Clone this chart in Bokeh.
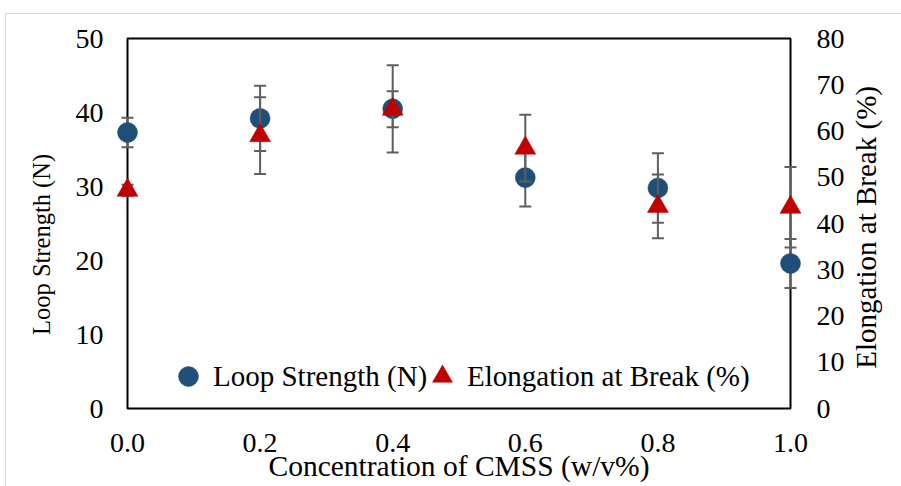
import math
import numpy as np
from bokeh.plotting import figure
from bokeh.models import (Range1d, LinearAxis, FixedTicker, PrintfTickFormatter,
                          Legend, LegendItem, ColumnDataSource)
from bokeh.embed import file_html
from bokeh.resources import INLINE

# ---------------- data ----------------
conc = [0.0, 0.2, 0.4, 0.6, 0.8, 1.0]
loop_strength = [37.3, 39.2, 40.5, 31.2, 29.8, 19.6]
loop_err = [2.0, 4.4, 5.9, 3.9, 4.7, 3.3]
elongation = [47.2, 59.0, 64.7, 56.3, 43.7, 43.5]
elong_err = [1.2, 8.3, 3.9, 7.2, 6.9, 8.7]

x_ticks = [0.0, 0.2, 0.4, 0.6, 0.8, 1.0]
left_ticks = [0, 10, 20, 30, 40, 50]
right_ticks = [0, 10, 20, 30, 40, 50, 60, 70, 80]

x_label = "Concentration of CMSS (w/v%)"
left_label = "Loop Strength (N)"
right_label = "Elongation at Break (%)"
series_names = ["Loop Strength (N)", "Elongation at Break (%)"]

# ---------------- style ----------------
FONT = "Liberation Serif"
BLUE = "#1F4E79"
RED = "#C00000"
ERR = "#5F5F5F"

FRAME_LEFT = 107
PAD_PX = 20
X_PX = 663.0
YL_PX = 370.0
LEFT_TITLE_POS = 34.4    # anchor of the left title (left-axis units)
RIGHT_TITLE_POS = 45.6   # anchor of the right title (right-axis units)

x0, x1 = min(x_ticks), max(x_ticks)
yl0, yl1 = min(left_ticks), max(left_ticks)
yr0, yr1 = min(right_ticks), max(right_ticks)
xpad = PAD_PX / X_PX * (x1 - x0)
ylpad = (PAD_PX / 2) / YL_PX * (yl1 - yl0)
yrpad = (PAD_PX / 2) / YL_PX * (yr1 - yr0)

p = figure(width=901, height=486, output_backend="svg", toolbar_location=None,
           x_range=Range1d(x0 - xpad, x1 + xpad),
           y_range=Range1d(yl0 - ylpad, yl1 + ylpad),
           min_border_left=FRAME_LEFT, min_border_right=91,
           min_border_top=28, min_border_bottom=68)
p.extra_y_ranges = {"elong": Range1d(yr0 - yrpad, yr1 + yrpad)}
p.outline_line_color = None
p.grid.visible = False
p.background_fill_color = "white"
p.border_fill_alpha = 0
# light grey outer border of the chart container (CSS background lines)
p.styles = {
    "background-color": "white",
    "background-image": "linear-gradient(#D9D9D9,#D9D9D9), linear-gradient(#D9D9D9,#D9D9D9)",
    "background-size": "1px 100%, 100% 1px",
    "background-position": "5px 13px, 5px 13px",
    "background-repeat": "no-repeat",
}

# plot-area box
p.quad(left=[x0], right=[x1], bottom=[yl0], top=[yl1],
       fill_color=None, line_color="black", line_width=2)

loop = np.array(loop_strength)
le = np.array(loop_err)
el = np.array(elongation)
ee = np.array(elong_err)

src_l = ColumnDataSource(dict(x=conc, y=loop, lo=loop - le, hi=loop + le))
src_e = ColumnDataSource(dict(x=conc, y=el, lo=el - ee, hi=el + ee))

# loop strength error bars, then markers
p.segment(x0="x", y0="lo", x1="x", y1="hi", source=src_l, line_color=ERR, line_width=2)
p.scatter(x="x", y="lo", source=src_l, marker="dash", size=12, line_color=ERR, line_width=2)
p.scatter(x="x", y="hi", source=src_l, marker="dash", size=12, line_color=ERR, line_width=2)
circ = p.scatter(x="x", y="y", source=src_l, marker="circle", size=20,
                 fill_color=BLUE, line_color=BLUE, line_width=0.5)

# elongation error bars, then markers
p.segment(x0="x", y0="lo", x1="x", y1="hi", source=src_e, line_color=ERR, line_width=2,
          y_range_name="elong")
p.scatter(x="x", y="lo", source=src_e, marker="dash", size=12, line_color=ERR, line_width=2,
          y_range_name="elong")
p.scatter(x="x", y="hi", source=src_e, marker="dash", size=12, line_color=ERR, line_width=2,
          y_range_name="elong")
tri = p.scatter(x="x", y="y", source=src_e, marker="triangle", size=21,
                fill_color=RED, line_color=RED, line_width=0.5, y_range_name="elong")

# axes
def style_axis(ax, label_size="28px"):
    ax.axis_line_color = None
    ax.major_tick_line_color = None
    ax.minor_tick_line_color = None
    ax.major_tick_out = 0
    ax.major_tick_in = 0
    ax.minor_tick_out = 0
    ax.minor_tick_in = 0
    ax.major_label_text_font = FONT
    ax.major_label_text_font_size = label_size
    ax.major_label_text_color = "black"
    ax.axis_label_text_font = FONT
    ax.axis_label_text_font_size = "29.5px"
    ax.axis_label_text_font_style = "normal"
    ax.axis_label_text_color = "black"

p.xaxis.ticker = FixedTicker(ticks=x_ticks)
p.xaxis.formatter = PrintfTickFormatter(format="%.1f")
p.xaxis.axis_label = x_label
style_axis(p.xaxis[0])
p.xaxis.major_label_standoff = 15
p.xaxis.axis_label_standoff = -5

p.yaxis.ticker = FixedTicker(ticks=left_ticks)
style_axis(p.yaxis[0])
p.yaxis.major_label_standoff = 4

ry = LinearAxis(y_range_name="elong", ticker=FixedTicker(ticks=right_ticks))
style_axis(ry)
ry.major_label_standoff = 6
p.add_layout(ry, "right")

# axis titles, both reading bottom-to-top as in the original
lt = LinearAxis(ticker=FixedTicker(ticks=[LEFT_TITLE_POS]),
                major_label_overrides={LEFT_TITLE_POS: left_label},
                major_label_orientation=math.pi / 2)
style_axis(lt, "24.5px")
lt.major_label_standoff = 31
lt.major_label_text_line_height = 0.8
p.add_layout(lt, "left")

rt = LinearAxis(y_range_name="elong", ticker=FixedTicker(ticks=[RIGHT_TITLE_POS]),
                major_label_overrides={RIGHT_TITLE_POS: right_label},
                major_label_orientation=math.pi / 2)
style_axis(rt, "29px")
rt.major_label_standoff = 19
rt.major_label_text_line_height = 0.8
p.add_layout(rt, "right")

legend_common = dict(orientation="horizontal", glyph_width=50, glyph_height=50,
                     label_standoff=0, spacing=0, padding=0, margin=0,
                     border_line_color=None, background_fill_alpha=0,
                     label_text_font=FONT, label_text_font_size="29px",
                     label_text_color="black")
leg1 = Legend(items=[LegendItem(label=series_names[0], renderers=[circ])],
              location=(56, 17), **legend_common)
leg2 = Legend(items=[LegendItem(label=series_names[1], renderers=[tri])],
              location=(310, 17), **legend_common)
p.add_layout(leg1)
p.add_layout(leg2)

open("out.html", "w").write(file_html(p, INLINE))
